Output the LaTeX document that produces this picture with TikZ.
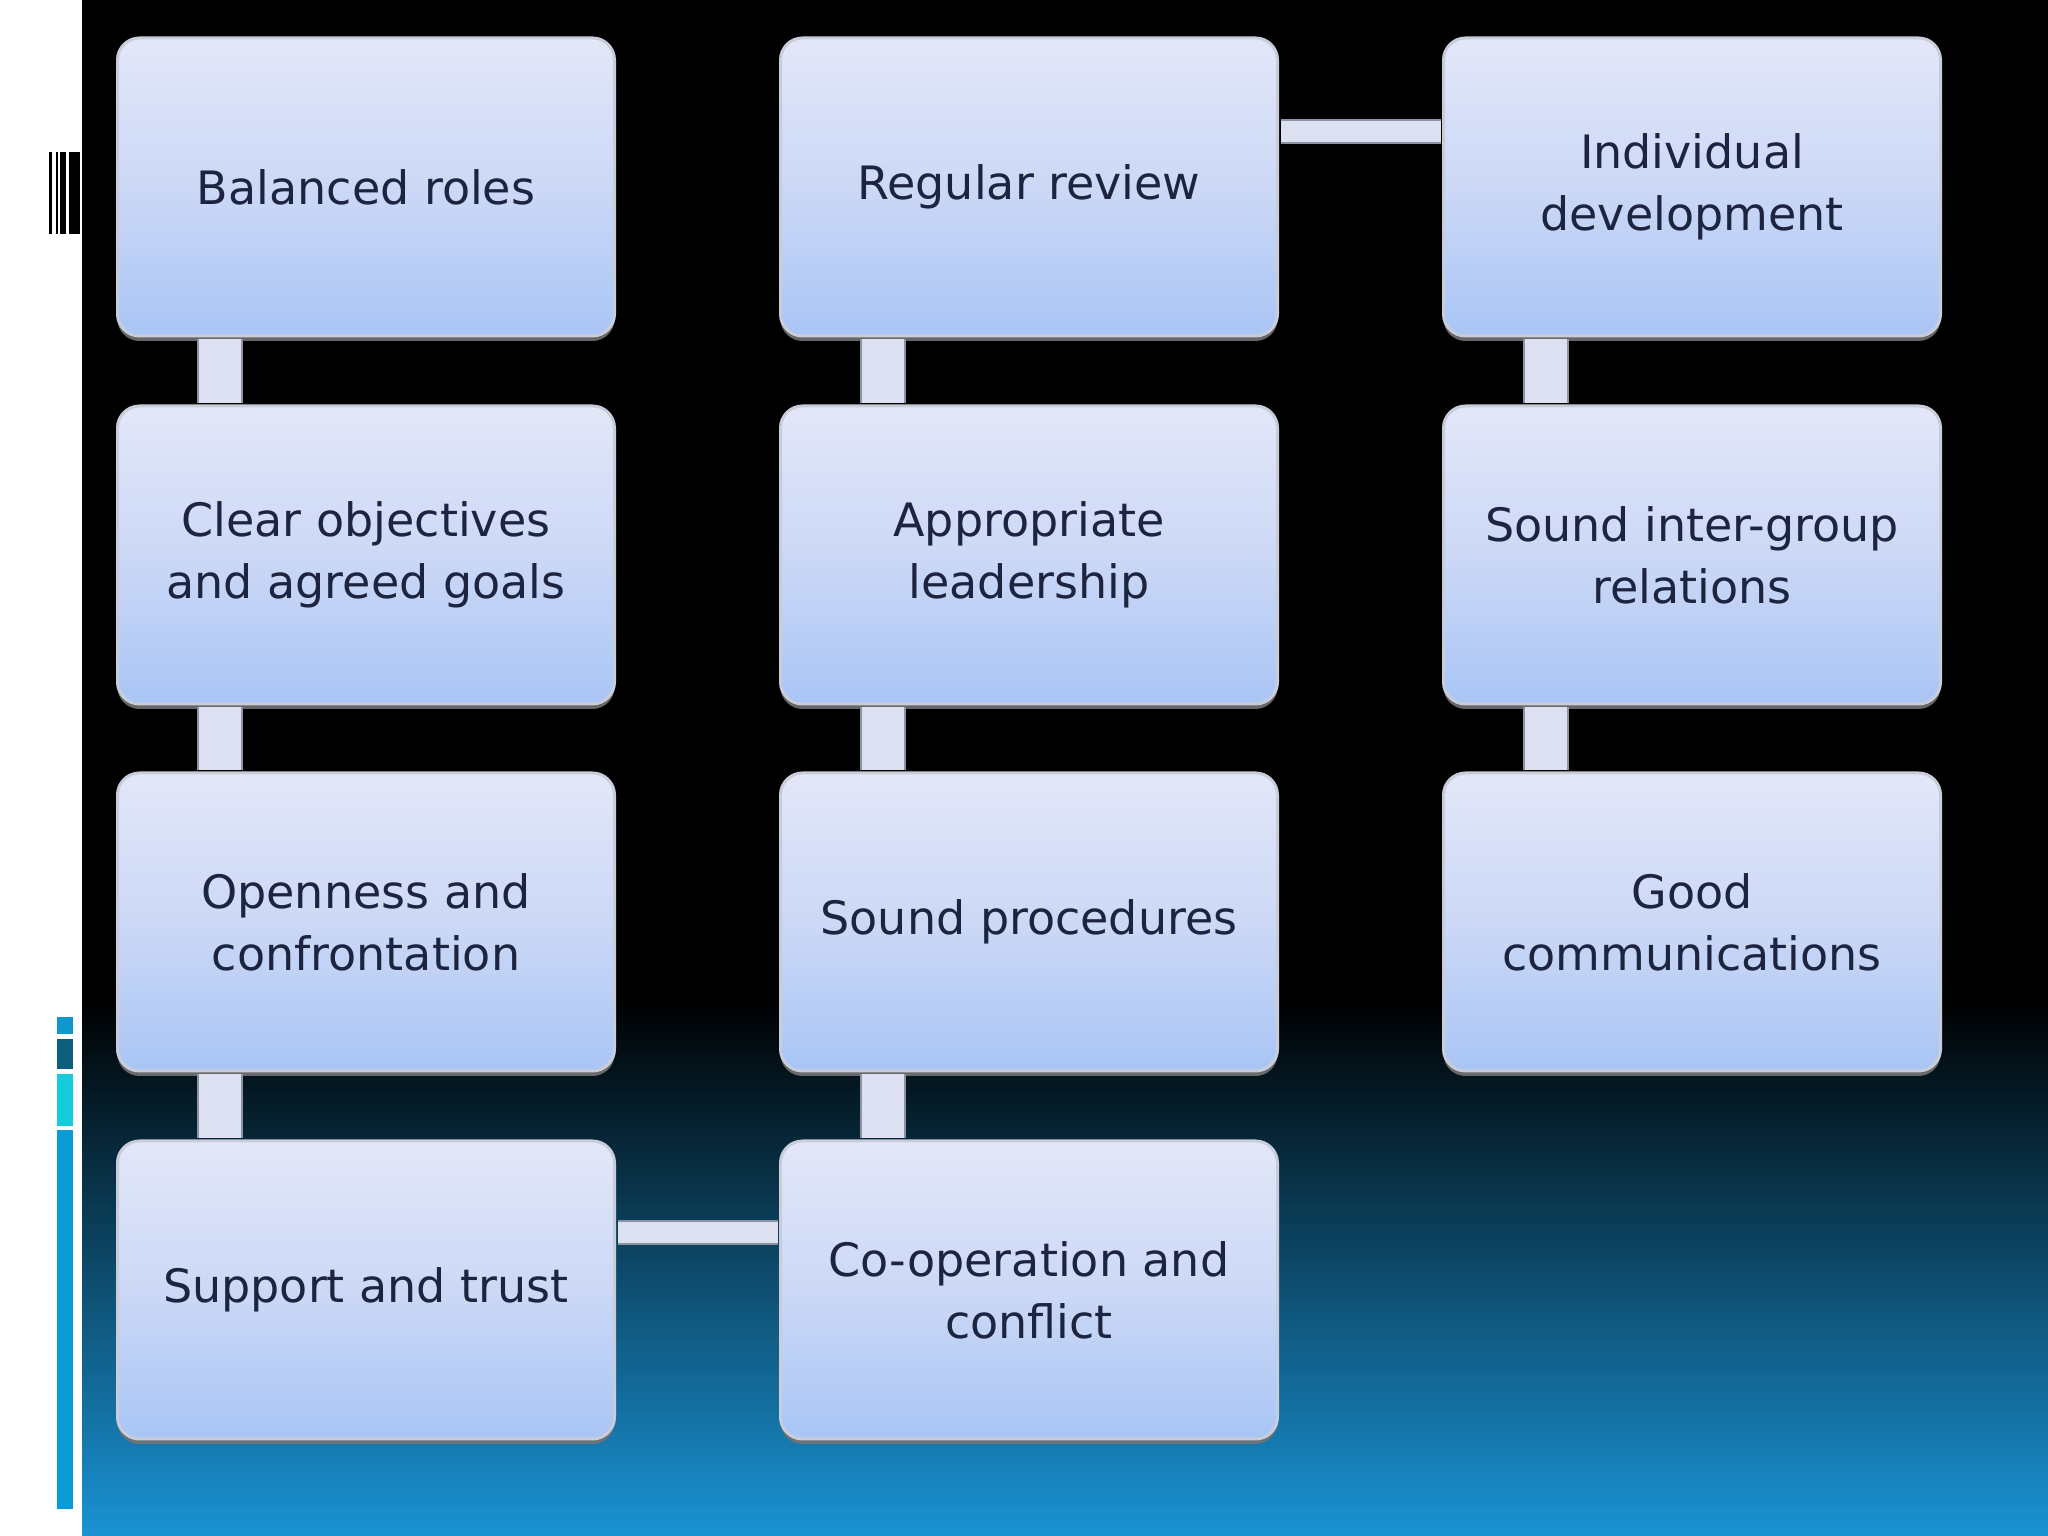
\documentclass[tikz,border=0pt]{standalone}
\usepackage{fontspec}
\setmainfont{DejaVu Sans}
\usetikzlibrary{shadows}
\definecolor{txt}{HTML}{1C2440}
\definecolor{boxtop}{HTML}{E3E7F8}
\definecolor{boxmid}{HTML}{CCD8F6}
\definecolor{boxbot}{HTML}{A9C5F5}
\definecolor{boxedge}{HTML}{C9CDDA}
\definecolor{connfill}{HTML}{DCE0F0}
\definecolor{connedge}{HTML}{8C93A4}
\definecolor{bgblue}{HTML}{1A93D4}
\definecolor{bgmid}{HTML}{0A4A70}
\definecolor{stripA}{HTML}{0E96CF}
\definecolor{stripB}{HTML}{0B5E7C}
\definecolor{stripC}{HTML}{12CDD9}
\definecolor{stripD}{HTML}{0A9CD8}
\tikzset{
  box/.style={rounded corners=22pt, minimum width=497pt, minimum height=298pt,
    draw=boxedge, line width=3pt, top color=boxtop, bottom color=boxbot, middle color=boxmid,
    align=center, text=txt, font={\fontsize{46}{62}\selectfont}, inner sep=0pt,
    drop shadow={shadow xshift=0pt, shadow yshift=-5pt, fill=black!55, opacity=0.9}},
  vconn/.style={draw=connedge, line width=2pt, double=connfill, double distance=42pt},
  hconn/.style={draw=connedge, line width=2pt, double=connfill, double distance=21pt}
}
\begin{document}
\begin{tikzpicture}[x=1pt,y=1pt]
\useasboundingbox (0,0) rectangle (2048,1536);
% background
\fill[white] (0,0) rectangle (82,1536);
\fill[black] (82,530) rectangle (2048,1536);
\shade[top color=black, middle color=bgmid, bottom color=bgblue] (82,0) rectangle (2048,536);
% barcode
\fill[black] (49.3,1302) rectangle (52,1384);
\fill[black] (55.7,1302) rectangle (58,1384);
\fill[black] (60,1302) rectangle (66.3,1384);
\fill[black] (69.3,1302) rectangle (80,1384);
% left strip
\fill[stripA] (57,502) rectangle (73,519);
\fill[stripB] (57,467) rectangle (73,497);
\fill[stripC] (57,410) rectangle (73,462);
\fill[stripD] (57,27) rectangle (73,406);
% boxes
\node[box] (br) at (366,1349) {Balanced roles};
\node[box] (co) at (366,981) {Clear objectives\\and agreed goals};
\node[box] (oc) at (366,614) {Openness and\\confrontation};
\node[box] (st) at (366,246) {Support and trust};
\node[box] (rr) at (1029,1349) {Regular review};
\node[box] (al) at (1029,981) {Appropriate\\leadership};
\node[box] (sp) at (1029,614) {Sound procedures};
\node[box] (cc) at (1029,246) {Co-operation and\\conflict};
\node[box] (id) at (1692,1349) {Individual\\development};
\node[box] (ig) at (1692,981) {Sound inter-group\\relations};
\node[box] (gc) at (1692,614) {Good\\communications};
% connectors
\draw[vconn] ([xshift=104pt,yshift=-1.5pt]br.south west) -- ([xshift=104pt,yshift=1.5pt]co.north west);
\draw[vconn] ([xshift=104pt,yshift=-1.5pt]co.south west) -- ([xshift=104pt,yshift=1.5pt]oc.north west);
\draw[vconn] ([xshift=104pt,yshift=-1.5pt]oc.south west) -- ([xshift=104pt,yshift=1.5pt]st.north west);
\draw[vconn] ([xshift=104pt,yshift=-1.5pt]rr.south west) -- ([xshift=104pt,yshift=1.5pt]al.north west);
\draw[vconn] ([xshift=104pt,yshift=-1.5pt]al.south west) -- ([xshift=104pt,yshift=1.5pt]sp.north west);
\draw[vconn] ([xshift=104pt,yshift=-1.5pt]sp.south west) -- ([xshift=104pt,yshift=1.5pt]cc.north west);
\draw[vconn] ([xshift=104pt,yshift=-1.5pt]id.south west) -- ([xshift=104pt,yshift=1.5pt]ig.north west);
\draw[vconn] ([xshift=104pt,yshift=-1.5pt]ig.south west) -- ([xshift=104pt,yshift=1.5pt]gc.north west);
\draw[hconn] ([xshift=1.5pt,yshift=-95pt]rr.north east) -- ([xshift=-1.5pt,yshift=-95pt]id.north west);
\draw[hconn] ([xshift=1.5pt,yshift=-93pt]st.north east) -- ([xshift=-1.5pt,yshift=-93pt]cc.north west);
\end{tikzpicture}
\end{document}
